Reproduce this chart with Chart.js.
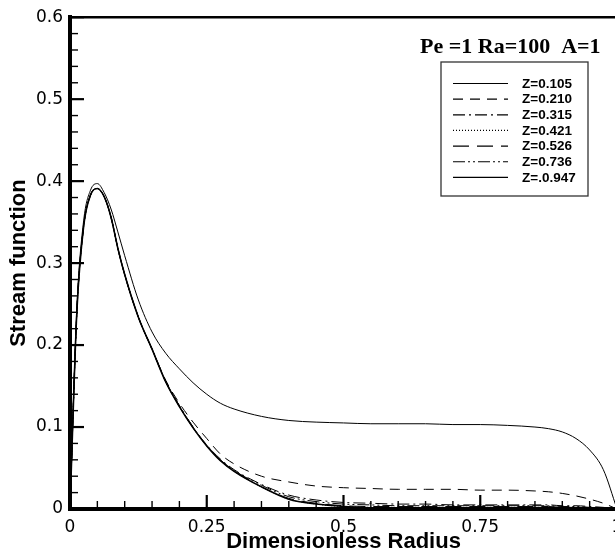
<!DOCTYPE html>
<html><head><meta charset="utf-8">
<script src="https://cdn.jsdelivr.net/npm/chart.js@4.4.1/dist/chart.umd.min.js"></script>
<style>
html,body{margin:0;padding:0;overflow:hidden;background:#fff;width:615px;height:560px}
#wrap{width:640px;height:560px}
canvas{display:block}
</style></head>
<body><div id="wrap"><canvas id="c" width="640" height="560" style="width:640px;height:560px"></canvas></div>
<script>
// ---- data ----
const radius = [0, 0.0125, 0.025, 0.0375, 0.05, 0.0625, 0.075, 0.0875, 0.1, 0.125, 0.15, 0.175, 0.2, 0.225, 0.25, 0.275, 0.3, 0.35, 0.4, 0.45, 0.5, 0.55, 0.6, 0.65, 0.7, 0.75, 0.8, 0.85, 0.875, 0.9, 0.925, 0.95, 0.975, 1];
const psiZ0105 = [0, 0.245, 0.352, 0.389, 0.397, 0.386, 0.366, 0.338, 0.309, 0.255, 0.216, 0.190, 0.171, 0.154, 0.140, 0.129, 0.122, 0.113, 0.108, 0.106, 0.105, 0.104, 0.104, 0.104, 0.103, 0.103, 0.102, 0.100, 0.098, 0.094, 0.086, 0.072, 0.048, 0];
const psiZ0210 = [0, 0.240, 0.345, 0.383, 0.391, 0.381, 0.356, 0.318, 0.286, 0.234, 0.195, 0.157, 0.129, 0.106, 0.086, 0.067, 0.055, 0.040, 0.033, 0.028, 0.026, 0.025, 0.024, 0.024, 0.024, 0.023, 0.023, 0.022, 0.021, 0.019, 0.016, 0.012, 0.007, 0];
const psiZ0315 = [0, 0.240, 0.345, 0.383, 0.391, 0.381, 0.356, 0.318, 0.286, 0.234, 0.195, 0.156, 0.126, 0.100, 0.078, 0.061, 0.048, 0.030, 0.017, 0.011, 0.008, 0.007, 0.006, 0.006, 0.005, 0.005, 0.005, 0.005, 0.005, 0.004, 0.004, 0.003, 0.002, 0];
const psiZ0421 = [0, 0.240, 0.345, 0.383, 0.391, 0.381, 0.356, 0.318, 0.286, 0.234, 0.195, 0.155, 0.125, 0.099, 0.077, 0.059, 0.046, 0.027, 0.012, 0.006, 0.003, 0.002, 0.002, 0.002, 0.002, 0.002, 0.002, 0.002, 0.002, 0.002, 0.001, 0.001, 0.001, 0];
const psiZ0526 = [0, 0.240, 0.345, 0.383, 0.391, 0.381, 0.356, 0.318, 0.286, 0.234, 0.195, 0.155, 0.125, 0.099, 0.077, 0.059, 0.047, 0.027, 0.013, 0.007, 0.004, 0.003, 0.003, 0.003, 0.003, 0.003, 0.003, 0.003, 0.003, 0.002, 0.002, 0.002, 0.001, 0];
const psiZ0736 = [0, 0.240, 0.345, 0.383, 0.391, 0.381, 0.356, 0.318, 0.286, 0.234, 0.195, 0.156, 0.126, 0.100, 0.077, 0.060, 0.047, 0.029, 0.015, 0.009, 0.006, 0.005, 0.004, 0.004, 0.004, 0.004, 0.004, 0.004, 0.004, 0.003, 0.003, 0.002, 0.001, 0];
const psiZ0947 = [0, 0.240, 0.345, 0.383, 0.391, 0.381, 0.356, 0.318, 0.286, 0.234, 0.195, 0.155, 0.125, 0.099, 0.077, 0.059, 0.046, 0.027, 0.012, 0.006, 0.003, 0.0015, 0.001, 0.001, 0.001, 0.001, 0.001, 0.001, 0.001, 0.001, 0.001, 0.0005, 0.0003, 0];
const seriesLabels = ['Z=0.105', 'Z=0.210', 'Z=0.315', 'Z=0.421', 'Z=0.526', 'Z=0.736', 'Z=.0.947'];
const xTickValues = [0, 0.25, 0.5, 0.75, 1];
const xTickLabels = ['0', '0.25', '0.5', '0.75', '1'];
const yTickValues = [0, 0.1, 0.2, 0.3, 0.4, 0.5, 0.6];
const yTickLabels = ['0', '0.1', '0.2', '0.3', '0.4', '0.5', '0.6'];
const annotationText = 'Pe =1 Ra=100  A=1';

// ---- styles ----
const seriesValues = [psiZ0105, psiZ0210, psiZ0315, psiZ0421, psiZ0526, psiZ0736, psiZ0947];
const seriesDash = [[], [10, 7], [12, 4, 2, 4], [1, 2], [16, 8], [12, 3, 2, 3, 2, 3], []];
const seriesWidth = [1, 1, 1, 1, 1, 1, 1.6];

const datasets = seriesValues.map((vals, i) => ({
  label: seriesLabels[i],
  data: radius.map((r, k) => ({x: r, y: vals[k]})),
  borderColor: '#000',
  backgroundColor: '#000',
  borderWidth: seriesWidth[i],
  borderDash: seriesDash[i],
  pointRadius: 0,
  fill: false,
  cubicInterpolationMode: 'monotone'
}));

const frame = {
  id: 'frame',
  afterDatasetsDraw(chart) {
    const ctx = chart.ctx, a = chart.chartArea;
    const xs = chart.scales.x, ys = chart.scales.y;
    ctx.save();
    ctx.strokeStyle = '#000';
    ctx.setLineDash([]);
    ctx.lineWidth = 2.5;
    ctx.beginPath(); ctx.moveTo(a.left, a.top); ctx.lineTo(a.right + 10, a.top); ctx.stroke();
    for (let k = 0; k <= 30; k++) {
      const major = k % 5 === 0;
      const p = ys.getPixelForValue(k * 0.02);
      ctx.lineWidth = major ? 2.2 : 1.4;
      ctx.beginPath(); ctx.moveTo(a.left, p); ctx.lineTo(a.left + (major ? 14 : 8), p); ctx.stroke();
    }
    for (let k = 0; k <= 20; k++) {
      const major = k % 5 === 0;
      const p = xs.getPixelForValue(k * 0.05);
      ctx.lineWidth = major ? 2.2 : 1.4;
      ctx.beginPath(); ctx.moveTo(p, a.bottom); ctx.lineTo(p, a.bottom - (major ? 14 : 8)); ctx.stroke();
    }
    ctx.fillStyle = '#000';
    ctx.font = 'bold 22px "Liberation Serif"';
    ctx.textBaseline = 'alphabetic';
    ctx.textAlign = 'left';
    ctx.fillText(annotationText, 420, 52.5);
    ctx.fillStyle = '#fff';
    ctx.fillRect(441, 62, 147, 134);
    ctx.lineWidth = 1.3;
    ctx.strokeStyle = '#333';
    ctx.strokeRect(441, 62, 147, 134);
    ctx.font = 'bold 13.5px "Liberation Sans"';
    ctx.textBaseline = 'middle';
    chart.data.datasets.forEach((ds, i) => {
      const y = 83.5 + i * 15.65;
      ctx.strokeStyle = '#000';
      ctx.lineWidth = 1.2;
      ctx.setLineDash(ds.borderDash || []);
      ctx.beginPath(); ctx.moveTo(453, y); ctx.lineTo(508, y); ctx.stroke();
      ctx.setLineDash([]);
      ctx.fillStyle = '#000';
      ctx.fillText(ds.label, 522, y + 0.5);
    });
    ctx.restore();
  }
};

new Chart(document.getElementById('c'), {
  type: 'line',
  data: {datasets},
  options: {
    responsive: false,
    animation: false,
    devicePixelRatio: 1,
    layout: {padding: {top: 12, right: 23, left: 0, bottom: 0}},
    plugins: {legend: {display: false}, tooltip: {enabled: false}, title: {display: false}},
    scales: {
      x: {
        type: 'linear', min: 0, max: 1, position: 'bottom',
        afterBuildTicks: s => { s.ticks = xTickValues.map(v => ({value: v})); },
        afterFit: s => { s.height = 51; },
        ticks: {callback: v => xTickLabels[xTickValues.indexOf(v)], font: {family: 'DejaVu Sans', size: 17}, color: '#000', padding: 8, maxRotation: 0, autoSkip: false},
        grid: {display: false, drawTicks: false},
        border: {display: true, color: '#000', width: 4},
        title: {display: true, text: 'Dimensionless Radius', color: '#000', font: {family: 'Liberation Sans', size: 22, weight: 'bold'}, padding: {top: 0, bottom: 5}}
      },
      y: {
        type: 'linear', min: 0, max: 0.6, position: 'left',
        afterBuildTicks: s => { s.ticks = yTickValues.map(v => ({value: v})); },
        afterFit: s => { s.width = 70; },
        ticks: {callback: v => yTickLabels[yTickValues.indexOf(v)], font: {family: 'DejaVu Sans', size: 17}, color: '#000', padding: 7, autoSkip: false},
        grid: {display: false, drawTicks: false},
        border: {display: true, color: '#000', width: 4},
        title: {display: true, text: 'Stream function', color: '#000', font: {family: 'Liberation Sans', size: 22, weight: 'bold'}, padding: {top: 6, bottom: 0}}
      }
    }
  },
  plugins: [frame]
});
</script>
</body></html>
